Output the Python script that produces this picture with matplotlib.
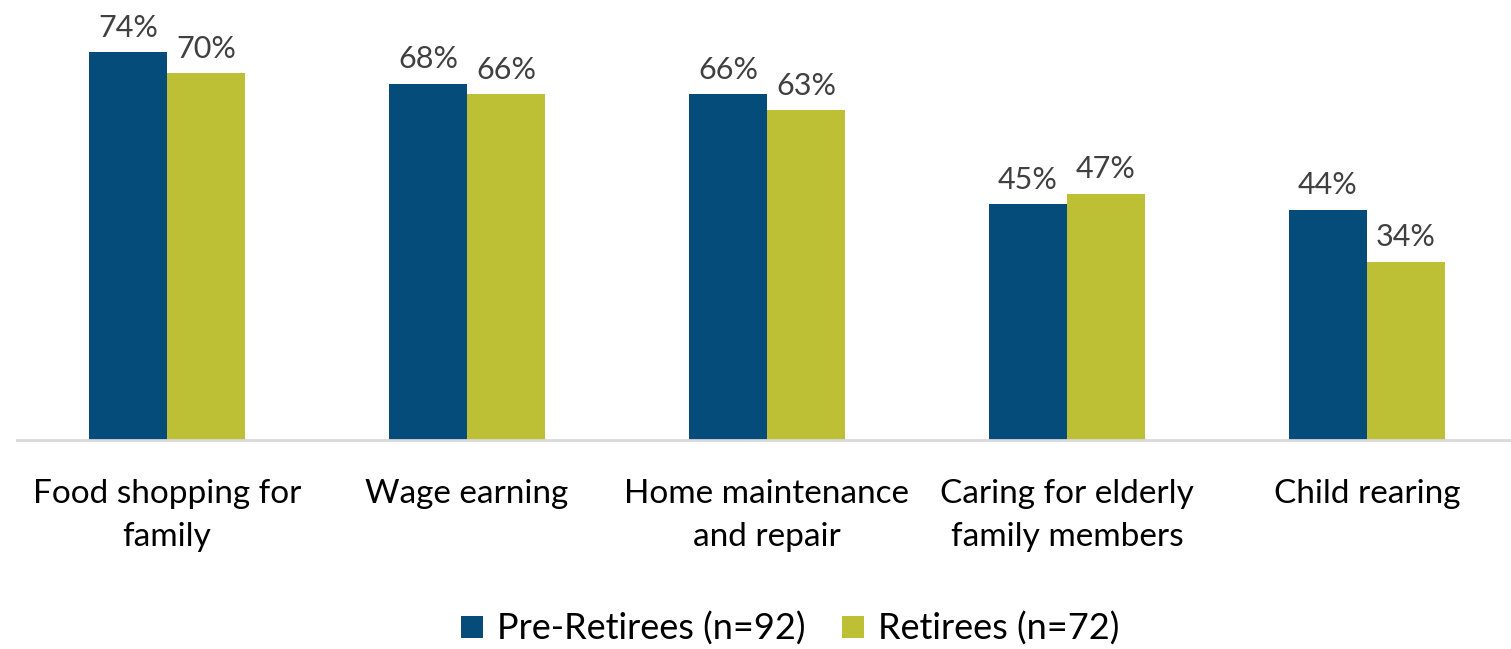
import matplotlib.pyplot as plt
import numpy as np

plt.rcParams['font.family'] = ['Lato', 'DejaVu Sans']

categories = ['Food shopping for\nfamily', 'Wage earning', 'Home maintenance\nand repair',
              'Caring for elderly\nfamily members', 'Child rearing']
pre_retirees = [74, 68, 66, 45, 44]
retirees = [70, 66, 63, 47, 34]
series_names = ['Pre-Retirees (n=92)', 'Retirees (n=72)']

blue = '#054C7A'
green = '#BDC035'

fig = plt.figure(figsize=(15.11, 6.49), dpi=100)
ax = fig.add_axes([17 / 1511, 209 / 649, 1494 / 1511, 440 / 649])

x = np.arange(len(categories))
w = 0.26
b1 = ax.bar(x - w / 2, pre_retirees, w, color=blue, label=series_names[0])
b2 = ax.bar(x + w / 2, retirees, w, color=green, label=series_names[1])

for bars, vals in ((b1, pre_retirees), (b2, retirees)):
    for rect, v in zip(bars, vals):
        ax.text(rect.get_x() + rect.get_width() / 2, v + 2.0, f'{v}%',
                ha='center', va='bottom', fontsize=22, color='#404040')

ax.set_xlim(-0.5, -0.5 + 1494 / 300)
ax.set_ylim(0, 84)
ax.set_yticks([])
ax.set_xticks(x)
ax.set_xticklabels(categories, fontsize=24, linespacing=1.55)
ax.tick_params(axis='x', length=0, pad=28)
for s in ['top', 'right', 'left']:
    ax.spines[s].set_visible(False)
ax.spines['bottom'].set_color('#D9D9D9')
ax.spines['bottom'].set_linewidth(2)

fig.legend(loc='lower center', bbox_to_anchor=(0.523, -0.045), ncol=2, frameon=False,
           fontsize=26, handlelength=0.6, handleheight=0.6, handletextpad=0.4,
           columnspacing=1.0)

fig.savefig('out.png', dpi=100)
